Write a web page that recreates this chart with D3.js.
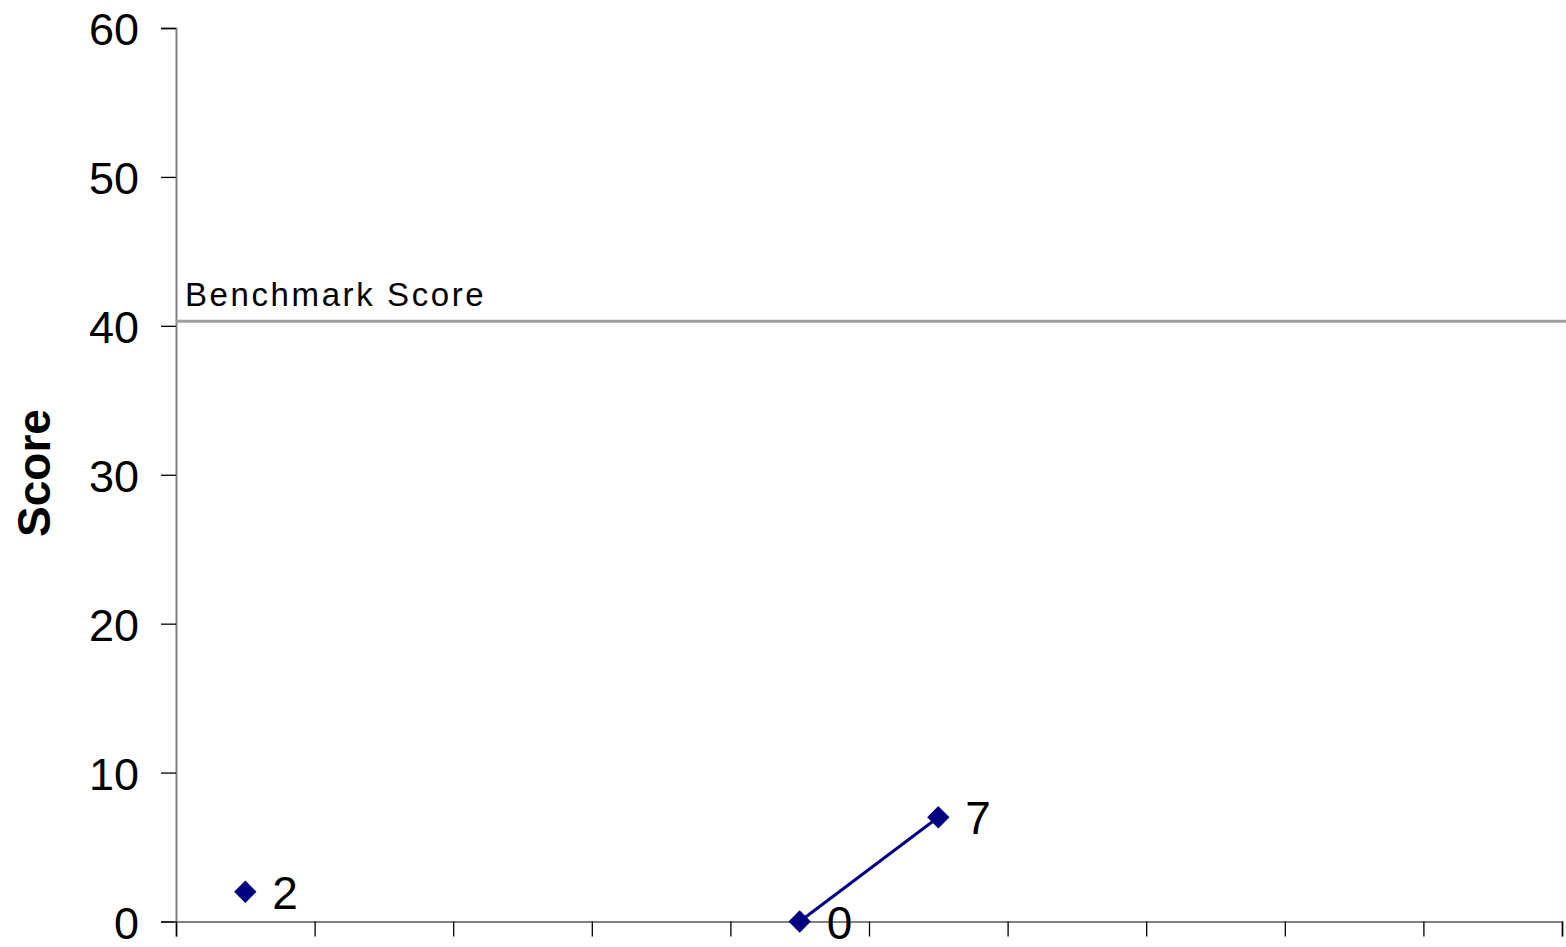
<!DOCTYPE html>
<html>
<head>
<meta charset="utf-8">
<script src="https://cdn.jsdelivr.net/npm/d3@7"></script>
<style>
  html, body { margin: 0; padding: 0; background: #fff; }
  svg { display: block; font-family: "Liberation Sans", Arial, sans-serif; }
</style>
</head>
<body>
<svg id="chart" width="1566" height="947"></svg>
<script>
// ---- data ----
const categories = ["1", "2", "3", "4", "5", "6", "7", "8", "9", "10"];
const scores = [2, null, null, null, 0, 7, null, null, null, null];
const benchmark = [40.3];
const benchmarkLabel = ["Benchmark Score"];
const yTicks = [0, 10, 20, 30, 40, 50, 60];
const yTitle = "Score";

// ---- layout ----
const svg = d3.select("#chart");
const plotLeft = 176, plotRight = 1562, plotTop = 28, plotBottom = 921.5;

const x = d3.scaleLinear().domain([0, categories.length]).range([plotLeft, plotRight]);
const y = d3.scaleLinear().domain([0, 60]).range([plotBottom, plotTop]);

// y axis
const yAxis = svg.append("g")
  .attr("transform", `translate(${plotLeft},0)`)
  .call(d3.axisLeft(y).tickValues(yTicks).tickSize(15).tickPadding(22).tickFormat(d3.format("d")));
yAxis.select(".domain").attr("stroke", "#808080").attr("stroke-width", 2);
yAxis.selectAll(".tick line").attr("stroke", "#000").attr("stroke-width", 1.3);
yAxis.selectAll(".tick text").attr("font-size", 45).attr("fill", "#000")
  .attr("font-family", "Liberation Sans, Arial, sans-serif").attr("dy", "0.37em");

// x axis
const xAxis = svg.append("g")
  .attr("transform", `translate(0,${plotBottom})`)
  .call(d3.axisBottom(x).tickValues(d3.range(0, categories.length + 1)).tickSize(15).tickFormat(""));
xAxis.select(".domain").attr("stroke", "#808080").attr("stroke-width", 2);
xAxis.selectAll(".tick line").attr("stroke", "#000").attr("stroke-width", 1.3);

// y title
svg.append("text")
  .attr("transform", `translate(50,${473}) rotate(-90)`)
  .attr("text-anchor", "middle")
  .attr("font-size", 46)
  .attr("font-weight", "bold")
  .attr("fill", "#000")
  .text(yTitle);

// benchmark line
svg.append("line")
  .attr("x1", plotLeft).attr("x2", 1566)
  .attr("y1", y(benchmark[0])).attr("y2", y(benchmark[0]))
  .attr("stroke", "#a0a0a0").attr("stroke-width", 3);
svg.append("text")
  .attr("x", plotLeft + 9)
  .attr("y", y(benchmark[0]) - 15)
  .attr("font-size", 33)
  .attr("letter-spacing", 2.6)
  .attr("fill", "#000")
  .text(benchmarkLabel[0]);

// series
const pts = scores.map((v, i) => ({ i, v }));
const line = d3.line()
  .defined(d => d.v !== null)
  .x(d => x(d.i + 0.5))
  .y(d => y(d.v));
svg.append("path")
  .datum(pts)
  .attr("fill", "none")
  .attr("stroke", "#000080")
  .attr("stroke-width", 3)
  .attr("d", line);

const valid = pts.filter(d => d.v !== null);
svg.selectAll(".marker")
  .data(valid)
  .join("path")
  .attr("class", "marker")
  .attr("d", d3.symbol().type(d3.symbolSquare).size(250))
  .attr("transform", d => `translate(${x(d.i + 0.5)},${y(d.v)}) rotate(45)`)
  .attr("fill", "#000080");

svg.selectAll(".dlabel")
  .data(valid)
  .join("text")
  .attr("class", "dlabel")
  .attr("x", d => x(d.i + 0.5) + 27)
  .attr("y", d => y(d.v))
  .attr("dy", "0.37em")
  .attr("font-size", 46)
  .attr("fill", "#000")
  .text(d => d.v);
</script>
</body>
</html>
